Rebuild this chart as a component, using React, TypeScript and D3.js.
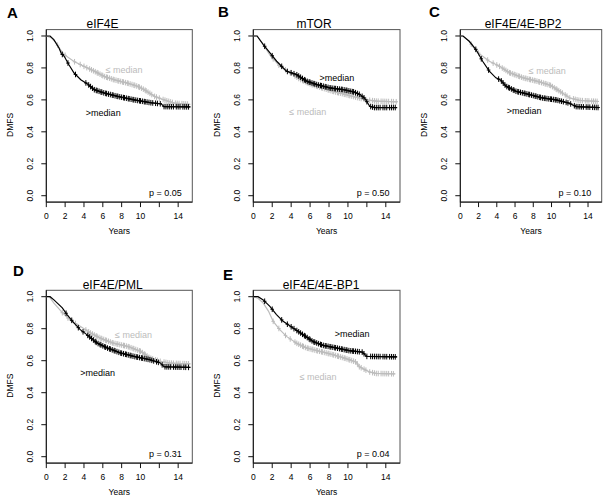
import React from 'react';
import * as d3 from 'd3';

type Pt = [number, number];

// panel text
const panelLetters = ['A', 'B', 'C', 'D', 'E'];
const panelTitles = ['eIF4E', 'mTOR', 'eIF4E/4E-BP2', 'eIF4E/PML', 'eIF4E/4E-BP1'];
const pValues = ['p = 0.05', 'p = 0.50', 'p = 0.10', 'p = 0.31', 'p = 0.04'];
const xTicks = [0, 2, 4, 6, 8, 10, 12, 14];
const xTickLabels = ['0', '2', '4', '6', '8', '10', '', '14'];
const yTicks = [0, 0.2, 0.4, 0.6, 0.8, 1.0];
const yTickLabels = ['0.0', '0.2', '0.4', '0.6', '0.8', '1.0'];

// survival curves (years, DMFS)
const eif4eHigh: Pt[] = [[0, 1], [0.4, 1], [0.8, 0.977], [1.35, 0.925], [1.6, 0.89], [1.9, 0.873], [2.4, 0.82], [2.95, 0.768], [3.66, 0.726], [4.37, 0.7], [5.08, 0.664], [6.15, 0.643], [7.56, 0.622], [9.34, 0.6], [11.1, 0.582], [12.2, 0.575], [12.5, 0.558], [15.3, 0.556]];
const eif4eLow: Pt[] = [[0, 1], [0.5, 0.99], [1.0, 0.96], [1.5, 0.915], [1.9, 0.883], [2.95, 0.84], [4.0, 0.81], [5.08, 0.78], [6.15, 0.747], [7.2, 0.726], [8.6, 0.705], [9.7, 0.685], [10.4, 0.664], [11.5, 0.622], [12.5, 0.6], [13.6, 0.58], [15.3, 0.572]];
const mtorHigh: Pt[] = [[0, 1], [0.4, 1], [1.06, 0.946], [1.76, 0.894], [2.47, 0.842], [3.5, 0.78], [4.58, 0.758], [5.64, 0.717], [6.7, 0.696], [8.1, 0.675], [9.5, 0.664], [10.6, 0.65], [11.27, 0.633], [11.8, 0.608], [12.3, 0.56], [12.8, 0.552], [15.2, 0.552]];
const mtorLow: Pt[] = [[0, 1], [0.4, 1], [1.0, 0.95], [1.76, 0.88], [2.8, 0.81], [3.9, 0.77], [4.9, 0.73], [6.0, 0.7], [7.0, 0.68], [8.4, 0.654], [9.8, 0.633], [11.3, 0.61], [12.0, 0.6], [13.0, 0.592], [15.2, 0.588]];
const bp2High: Pt[] = [[0, 1], [0.3, 1], [0.98, 0.967], [1.72, 0.915], [2.45, 0.842], [3.18, 0.78], [3.9, 0.738], [4.4, 0.725], [5.0, 0.686], [6.1, 0.654], [7.6, 0.633], [9.0, 0.612], [10.5, 0.6], [11.9, 0.58], [12.7, 0.558], [15.2, 0.552]];
const bp2Low: Pt[] = [[0, 1], [0.3, 1], [1.0, 0.965], [1.72, 0.905], [2.45, 0.873], [3.18, 0.842], [4.3, 0.81], [5.4, 0.77], [6.9, 0.738], [8.4, 0.717], [9.85, 0.692], [10.9, 0.654], [12.0, 0.612], [13.1, 0.596], [15.2, 0.59]];
const pmlHigh: Pt[] = [[0, 1], [0.4, 1], [0.81, 0.98], [1.7, 0.93], [2.2, 0.888], [2.93, 0.836], [3.6, 0.794], [4.3, 0.763], [5.4, 0.71], [6.45, 0.68], [7.9, 0.648], [9.3, 0.627], [11.0, 0.606], [12.1, 0.586], [12.5, 0.562], [15.3, 0.558]];
const pmlLow: Pt[] = [[0, 1], [0.3, 1], [0.81, 0.96], [1.7, 0.9], [2.6, 0.85], [3.6, 0.815], [4.7, 0.773], [5.7, 0.742], [7.1, 0.71], [8.6, 0.69], [10.0, 0.659], [11.0, 0.617], [12.1, 0.596], [13.1, 0.585], [15.3, 0.58]];
const bp1High: Pt[] = [[0, 1], [0.5, 1], [1.05, 0.98], [1.75, 0.94], [2.45, 0.888], [3.15, 0.846], [4.2, 0.804], [5.25, 0.763], [6.3, 0.72], [7.35, 0.696], [8.75, 0.68], [10.1, 0.663], [11.5, 0.654], [12.0, 0.627], [15.2, 0.624]];
const bp1Low: Pt[] = [[0, 1], [0.5, 0.99], [1.05, 0.96], [1.6, 0.91], [2.1, 0.846], [2.8, 0.794], [3.5, 0.752], [4.55, 0.71], [5.6, 0.68], [7.0, 0.659], [8.4, 0.638], [9.8, 0.613], [10.85, 0.592], [11.2, 0.562], [12.25, 0.53], [13.0, 0.52], [15.0, 0.518]];

// censoring times (years)
const censA: number[] = [1.7, 2.3, 3.1, 4.2, 4.5, 4.7, 4.9, 5.1, 5.3, 5.4, 5.6, 5.8, 5.9, 6.1, 6.3, 6.4, 6.6, 6.8, 7.0, 7.1, 7.3, 7.5, 7.6, 7.8, 8.0, 8.2, 8.3, 8.5, 8.7, 8.8, 9.0, 9.2, 9.3, 9.5, 9.7, 9.9, 10.0, 10.2, 10.4, 10.5, 10.7, 10.9, 11.1, 11.3, 11.6, 11.8, 12.1, 12.5, 12.7, 12.9, 13.1, 13.3, 13.5, 13.8, 14.0, 14.2, 14.5, 14.7, 14.9, 15.1];
const censB: number[] = [1.2, 2.0, 3.0, 3.6, 4.0, 4.3, 4.6, 4.8, 5.0, 5.2, 5.4, 5.5, 5.7, 5.9, 6.0, 6.2, 6.4, 6.5, 6.7, 6.9, 7.1, 7.2, 7.4, 7.6, 7.7, 7.9, 8.1, 8.2, 8.4, 8.6, 8.7, 8.9, 9.1, 9.3, 9.4, 9.6, 9.8, 9.9, 10.1, 10.3, 10.5, 10.6, 10.8, 11.0, 11.2, 11.5, 11.7, 12.0, 12.4, 12.6, 12.8, 13.0, 13.2, 13.4, 13.7, 13.9, 14.1, 14.4, 14.6, 14.8, 15.0];
const censC: number[] = [2.1, 2.7, 3.4, 3.9, 4.4, 4.6, 4.8, 5.0, 5.2, 5.3, 5.5, 5.7, 5.8, 6.0, 6.2, 6.3, 6.5, 6.7, 6.8, 7.0, 7.2, 7.3, 7.5, 7.7, 7.9, 8.0, 8.2, 8.4, 8.5, 8.7, 8.9, 9.0, 9.2, 9.4, 9.6, 9.7, 9.9, 10.1, 10.2, 10.4, 10.6, 10.8, 11.0, 11.2, 11.4, 11.7, 11.9, 12.3, 12.6, 12.8, 13.0, 13.2, 13.5, 13.7, 13.9, 14.1, 14.3, 14.6, 14.8, 15.1];

// label positions in data units [year, DMFS]
const lowLabelPos: Pt[] = [[6.3, 0.768], [3.8, 0.505], [7.5, 0.759], [7.3, 0.739], [4.9, 0.482]];
const highLabelPos: Pt[] = [[4.2, 0.5], [7.0, 0.721], [5.1, 0.512], [3.6, 0.504], [8.6, 0.748]];

const highCurves = [eif4eHigh, mtorHigh, bp2High, pmlHigh, bp1High];
const lowCurves = [eif4eLow, mtorLow, bp2Low, pmlLow, bp1Low];
const highCens = [censA, censB, censA, censC, censB];
const lowCens = [censB, censC, censB, censA, censC];

// pixel layout of each panel
const layout = [
  { left: 46.3, right: 192.3, top: 29.6, bottom: 202.1, letter: [7, 18], titleX: 102.5 },
  { left: 253.3, right: 400, top: 29.6, bottom: 202.1, letter: [218, 17], titleX: 314 },
  { left: 460.3, right: 601.7, top: 29.6, bottom: 202.1, letter: [429, 17], titleX: 523 },
  { left: 46.3, right: 192.3, top: 290.3, bottom: 463.1, letter: [13, 276], titleX: 112.7 },
  { left: 253.3, right: 400, top: 290.3, bottom: 463.1, letter: [223, 280], titleX: 321 },
];

const FONT = 'Liberation Sans, Arial, Helvetica, sans-serif';
const GRAY = '#bcbcbc';

function Curve({ pts, cens, x, y, color }: { pts: Pt[]; cens: number[]; x: d3.ScaleLinear<number, number>; y: d3.ScaleLinear<number, number>; color: string }) {
  const line = d3.line<Pt>().x(d => x(d[0])).y(d => y(d[1]));
  const at = d3.scaleLinear().domain(pts.map(d => d[0])).range(pts.map(d => d[1])).clamp(true);
  const tEnd = pts[pts.length - 1][0];
  return (
    <g>
      <path d={line(pts) || ''} fill="none" stroke={color} strokeWidth={1.2} />
      {cens.filter(t => t <= tEnd).map((t, i) => {
        const cx = x(t);
        const cy = y(at(t));
        return (
          <g key={i} stroke={color} strokeWidth={1}>
            <line x1={cx} x2={cx} y1={cy - 2.8} y2={cy + 2.8} />
            <line x1={cx - 1.8} x2={cx + 1.8} y1={cy} y2={cy} />
          </g>
        );
      })}
    </g>
  );
}

function Panel({ i }: { i: number }) {
  const L = layout[i];
  const x = d3.scaleLinear().domain([0, 15.5]).range([L.left, L.right]);
  const y = d3.scaleLinear().domain([-0.04, 1.04]).range([L.bottom, L.top]);
  const midY = (L.top + L.bottom) / 2;
  return (
    <g fontFamily={FONT}>
      <text x={L.letter[0]} y={L.letter[1]} fontSize={15} fontWeight="bold" fill="#000">{panelLetters[i]}</text>
      <text x={L.titleX} y={L.top - 1.5} fontSize={12} textAnchor="middle" fill="#000">{panelTitles[i]}</text>
      <rect x={L.left} y={L.top} width={L.right - L.left} height={L.bottom - L.top} fill="none" stroke="#555" strokeWidth={1} />
      <line x1={L.left} x2={L.right} y1={L.bottom} y2={L.bottom} stroke="#111" />
      <line x1={L.left} x2={L.left} y1={L.top} y2={L.bottom} stroke="#111" />
      {xTicks.map((t, k) => (
        <g key={k}>
          <line x1={x(t)} x2={x(t)} y1={L.bottom} y2={L.bottom + 5} stroke="#111" />
          <text x={x(t)} y={L.bottom + 16.5} fontSize={8.5} textAnchor="middle">{xTickLabels[k]}</text>
        </g>
      ))}
      {yTicks.map((t, k) => (
        <g key={k}>
          <line x1={L.left - 5} x2={L.left} y1={y(t)} y2={y(t)} stroke="#111" />
          <text transform={`translate(${L.left - 13},${y(t)}) rotate(-90)`} fontSize={8.5} textAnchor="middle">{yTickLabels[k]}</text>
        </g>
      ))}
      <text x={(L.left + L.right) / 2} y={L.bottom + 31.5} fontSize={8.5} textAnchor="middle">Years</text>
      <text transform={`translate(${L.left - 33},${midY + 9}) rotate(-90)`} fontSize={8.5} textAnchor="middle">DMFS</text>
      <Curve pts={lowCurves[i]} cens={lowCens[i]} x={x} y={y} color={GRAY} />
      <Curve pts={highCurves[i]} cens={highCens[i]} x={x} y={y} color="#000" />
      <text x={x(lowLabelPos[i][0])} y={y(lowLabelPos[i][1])} fontSize={9} fill={GRAY}>≤ median</text>
      <text x={x(highLabelPos[i][0])} y={y(highLabelPos[i][1])} fontSize={9} fill="#000">&gt;median</text>
      <text x={L.right - 10.5} y={y(0) + 0.5} fontSize={9} textAnchor="end">{pValues[i]}</text>
    </g>
  );
}

export default function App() {
  return (
    <svg width={612} height={498} style={{ position: 'absolute', left: 0, top: 0, background: '#fff' }}>
      <rect width={612} height={498} fill="#fff" />
      {panelLetters.map((_, i) => <Panel key={i} i={i} />)}
    </svg>
  );
}
